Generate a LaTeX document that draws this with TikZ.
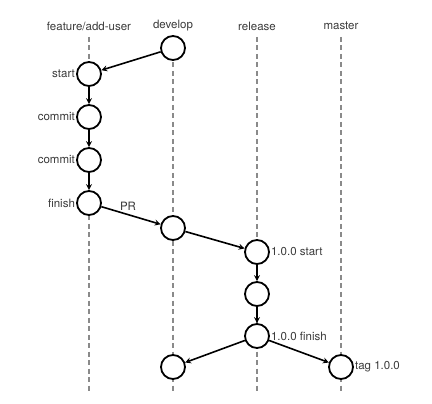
\documentclass[tikz,border=0pt]{standalone}
\usepackage{fontspec}
\setmainfont{TeX Gyre Heros}
\usepackage{tikz}
\usetikzlibrary{arrows}

\definecolor{lane}{HTML}{8A8A8A}
\definecolor{testo}{HTML}{3A3A3A}

\tikzset{
    commitnode/.style={circle, draw, line width=1.8pt, fill=white, minimum size=24pt, inner sep=0pt},
    lanetitle/.style={text=testo, font=\fontsize{11.5}{13}\selectfont},
    lanedash/.style={lane, line width=1.4pt, dash pattern=on 5pt off 3.5pt},
    flow/.style={->, line width=1.6pt, >=stealth}
}

\begin{document}
\begin{tikzpicture}[x=1pt, y=-1pt, every label/.style={text=testo, font=\fontsize{11.5}{13}\selectfont, inner sep=1pt}]
    \useasboundingbox (0,0) rectangle (432,404);

    % Titoli dei rami
    \node[lanetitle] (tfeat) at (89, 26) {feature/add-user};
    \node[lanetitle] (tdev) at (173, 26) {develop};
    \node[lanetitle] (trel) at (257, 26) {release};
    \node[lanetitle] (tmas) at (341, 26) {master};

    % Linee tratteggiate dei rami
    \foreach \n/\x in {feat/89, dev/173, rel/257, mas/341} {
        \coordinate (\n top) at (\x, 37);
        \coordinate (\n bot) at (\x, 392);
        \draw[lanedash] (\n top) -- (\n bot);
    }

    % Commit
    \node[commitnode] (dev1) at (173, 48) {};
    \node[commitnode, label=left:{start}] (fstart) at (89, 74) {};
    \node[commitnode, label=left:{commit}] (fc1) at (89, 117) {};
    \node[commitnode, label=left:{commit}] (fc2) at (89, 160) {};
    \node[commitnode, label=left:{finish}] (ffin) at (89, 203) {};
    \node[commitnode] (dev2) at (173, 228) {};
    \node[commitnode, label=right:{1.0.0 start}] (rstart) at (257, 252) {};
    \node[commitnode] (rmid) at (257, 294) {};
    \node[commitnode, label=right:{1.0.0 finish}] (rfin) at (257, 336) {};
    \node[commitnode] (dev3) at (173, 367) {};
    \node[commitnode, label=right:{tag 1.0.0}] (mtag) at (341, 367) {};

    % Frecce
    \draw[flow] (dev1) -- (fstart);
    \draw[flow] (fstart) -- (fc1);
    \draw[flow] (fc1) -- (fc2);
    \draw[flow] (fc2) -- (ffin);
    \draw[flow] (ffin) -- (dev2) node[pos=0.45, above, text=testo, font=\fontsize{11.5}{13}\selectfont] (pr) {PR};
    \draw[flow] (dev2) -- (rstart);
    \draw[flow] (rstart) -- (rmid);
    \draw[flow] (rmid) -- (rfin);
    \draw[flow] (rfin) -- (dev3);
    \draw[flow] (rfin) -- (mtag);
\end{tikzpicture}
\end{document}
